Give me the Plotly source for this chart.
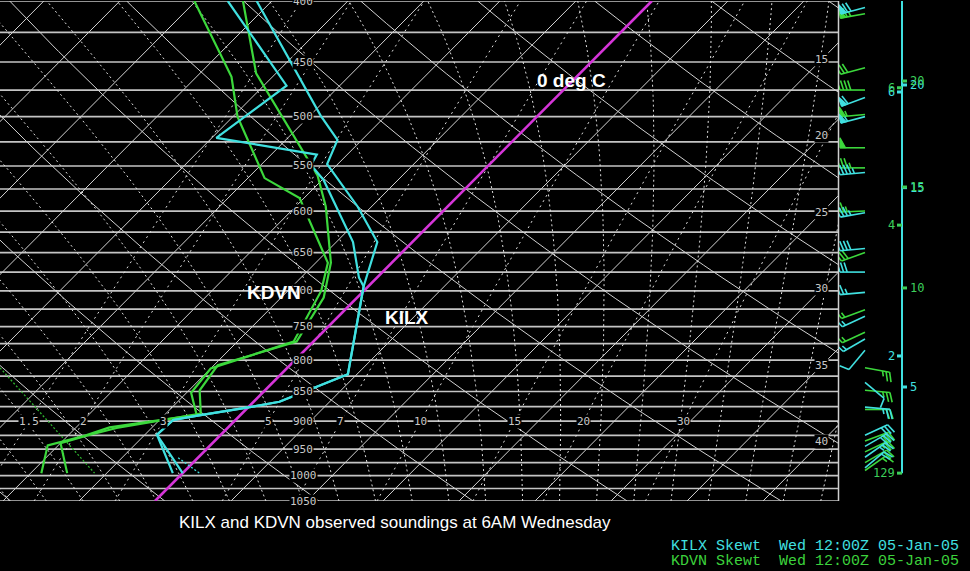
import numpy as np
import plotly.graph_objects as go

# ---------------- sounding data ----------------
ILX_T_P  = [995, 924, 898, 890, 876, 867, 822, 694, 637, 595, 548, 523, 499, 448, 400]
ILX_T    = [0.0, -4.2, -4.1, -2.7, 0.1, 1.7, 4.4, -0.3, -2.3, -5.9, -10.7, -11.6, -14.3, -20.0, -26.0]
ILX_TD_P = [995, 924, 898, 890, 876, 867, 822, 694, 682, 637, 565, 549, 538, 521, 471, 400]
ILX_TD   = [-0.65, -4.2, -4.1, -2.7, 0.1, 1.7, 4.4, -0.3, -1.2, -3.9, -9.9, -11.7, -12.0, -19.7, -18.5, -27.9]

DVN_T_P  = [995, 939, 924, 912, 887, 848, 808, 772, 709, 663, 595, 560, 460, 400]
DVN_T    = [-7.6, -10.0, -8.6, -7.3, -2.7, -4.3, -4.75, -1.1, -2.2, -4.0, -8.0, -10.6, -21.3, -26.9]
DVN_TD_P = [995, 943, 926, 911, 889, 852, 813, 772, 700, 663, 585, 563, 500, 463, 400]
DVN_TD   = [-9.3, -10.7, -8.9, -7.8, -2.9, -4.7, -5.0, -1.3, -2.8, -4.2, -10.3, -13.9, -19.7, -22.7, -30.1]

# dotted parcel-like segments
DVN_DOT_P = [812, 995]
DVN_DOT_T = [-18.9, -5.8]
ILX_DOT_P = [966, 995]
ILX_DOT_T = [-1.3, 1.1]

# winds (pressure hPa, direction deg, speed kt)
ILX_W_P   = [405, 482, 500, 557, 602, 645, 675, 702, 735, 768, 785, 835, 876, 925, 945, 965, 985]
ILX_W_DIR = [255, 250, 255, 265, 260, 265, 270, 265, 245, 240, 220, 130, 95, 65, 60, 55, 50]
ILX_W_SPD = [70, 60, 55, 45, 35, 40, 30, 25, 15, 15, 10, 10, 25, 30, 30, 25, 20]
DVN_W_P   = [410, 455, 475, 498, 531, 552, 600, 650, 726, 758, 812, 848, 880, 935, 955, 975, 990]
DVN_W_DIR = [260, 255, 270, 265, 270, 270, 268, 250, 250, 245, 100, 95, 90, 70, 65, 60, 55]
DVN_W_SPD = [65, 30, 40, 55, 50, 35, 25, 30, 15, 15, 25, 25, 20, 30, 25, 20, 15]

# height scale labels (text, pressure, side)
ILX_HT_TXT = ["20", "15", "5", "6", "2"]
ILX_HT_P   = [470.4, 573.5, 842.6, 476.8, 793.6]
ILX_HT_SIDE = ["r", "r", "r", "l", "l"]
DVN_HT_TXT = ["20", "15", "10", "6", "4", "129"]
DVN_HT_P   = [466.8, 572.8, 696.0, 472.9, 616.5, 995.0]
DVN_HT_SIDE = ["r", "r", "r", "l", "l", "l"]

# diagram background definitions
ISOBARS      = list(range(400, 1051, 25))
ISOBAR_LABELS = list(range(400, 1051, 50))
ISOTHERMS    = list(range(-100, 50, 5))
ISOTHERM_LABELS = [15, 20, 25, 30, 35, 40]
DRY_THETA_K  = list(range(240, 400, 10))
MOIST_T1000  = list(np.arange(-20, 45, 2.5))
MIX_RATIOS   = [1.5, 2, 3, 5, 7, 10, 15, 20, 30]
MIX_LABELS   = ["1.5", "2", "3", "5", "7", "10", "15", "20", "30"]

# ---------------- geometry ----------------
P_BOT, P_TOP = 1050.0, 400.0
SKEW = 33.87            # degC per unit ln p
XMIN, XMAX = -10.197, 44.934


def sx(T, p):
    return np.asarray(T, float) + SKEW * np.log(P_BOT / np.asarray(p, float))


def ypix_to_p(py):
    return 400.0 * np.exp((np.asarray(py, float) - 1.0) / 518.0)


def es(Tc):
    return 6.112 * np.exp(17.67 * Tc / (Tc + 243.5))


def td_from_w(w, p):
    e = w * p / (622.0 + w)
    l = np.log(e / 6.112)
    return 243.5 * l / (17.67 - l)


P_GRID = np.exp(np.linspace(np.log(1050), np.log(400), 90))


def moist_profile(T0c):
    def f(T, p):
        Tc = T - 273.15
        e = es(Tc)
        rs = 0.622 * e / (p - e)
        num = 287.04 * T + 2.501e6 * rs
        den = 1004.0 + (2.501e6 ** 2 * rs * 0.622) / (287.04 * T * T)
        return num / den / p
    out = {}
    for direction, pend in ((-1, 400.0), (1, 1050.0)):
        T = T0c + 273.15
        p = 1000.0
        h = 2.0 * direction
        ps, ts = [p], [T]
        while (p > pend + 1e-6) if direction < 0 else (p < pend - 1e-6):
            k1 = f(T, p)
            k2 = f(T + h * k1 / 2, p + h / 2)
            k3 = f(T + h * k2 / 2, p + h / 2)
            k4 = f(T + h * k3, p + h)
            T += h * (k1 + 2 * k2 + 2 * k3 + k4) / 6
            p += h
            ps.append(p); ts.append(T)
        out[direction] = (ps, ts)
    ps = out[1][0][::-1] + out[-1][0][1:]
    ts = out[1][1][::-1] + out[-1][1][1:]
    return np.array(ps), np.array(ts) - 273.15


def join(segs):
    xs, ys = [], []
    for x, y in segs:
        xs += list(x) + [None]
        ys += list(y) + [None]
    return xs, ys


fig = go.Figure()

GRID = "#d2d2d2"
ISOB = "#c4c4c4"
CYAN = "#40e0e0"
GREEN = "#3cd83c"
MAG = "#d535d8"

# isobars
segs = [([XMIN, XMAX], [p, p]) for p in ISOBARS]
x, y = join(segs)
fig.add_trace(go.Scatter(x=x, y=y, mode="lines", line=dict(color=ISOB, width=1.7), hoverinfo="skip"))

# isotherms
segs = [(sx([T, T], [1050, 400]), [1050, 400]) for T in ISOTHERMS if T != 0]
x, y = join(segs)
fig.add_trace(go.Scatter(x=x, y=y, mode="lines", line=dict(color=GRID, width=1), hoverinfo="skip"))

# dry adiabats
segs = []
for th in DRY_THETA_K:
    T = th * (P_GRID / 1000.0) ** 0.2857 - 273.15
    segs.append((sx(T, P_GRID), P_GRID))
x, y = join(segs)
fig.add_trace(go.Scatter(x=x, y=y, mode="lines", line=dict(color=GRID, width=1), hoverinfo="skip"))

# moist adiabats
segs = []
for t0 in MOIST_T1000:
    ps, ts = moist_profile(float(t0))
    idx = np.arange(0, len(ps), 5)
    segs.append((sx(ts[idx], ps[idx]), ps[idx]))
x, y = join(segs)
fig.add_trace(go.Scatter(x=x, y=y, mode="lines", line=dict(color="#e0e0e0", width=1, dash="2px,3px"), hoverinfo="skip"))

# mixing ratio lines
segs = []
for w in MIX_RATIOS:
    T = td_from_w(w, P_GRID)
    segs.append((sx(T, P_GRID), P_GRID))
x, y = join(segs)
fig.add_trace(go.Scatter(x=x, y=y, mode="lines", line=dict(color="#e0e0e0", width=1, dash="2px,4px"), hoverinfo="skip"))

# 0 deg C isotherm
fig.add_trace(go.Scatter(x=sx([0, 0], [1050, 400]), y=[1050, 400], mode="lines",
                         line=dict(color=MAG, width=2.6), hoverinfo="skip"))

# dotted parcel traces
fig.add_trace(go.Scatter(x=sx(DVN_DOT_T, DVN_DOT_P), y=DVN_DOT_P, mode="lines",
                         line=dict(color="#2fb02f", width=1.3, dash="2px,2px"), hoverinfo="skip"))
fig.add_trace(go.Scatter(x=sx(ILX_DOT_T, ILX_DOT_P), y=ILX_DOT_P, mode="lines",
                         line=dict(color=CYAN, width=1.3, dash="2px,2px"), hoverinfo="skip"))

# soundings
for P, T, col in ((DVN_TD_P, DVN_TD, GREEN), (DVN_T_P, DVN_T, GREEN),
                  (ILX_TD_P, ILX_TD, CYAN), (ILX_T_P, ILX_T, CYAN)):
    fig.add_trace(go.Scatter(x=sx(T, P), y=P, mode="lines", line=dict(color=col, width=2.2),
                             hoverinfo="skip"))

# ---------------- wind barbs (pixel space on x2) ----------------
STATION_X = 865.0
STAFF = 25.0
BARB = 10.0
SPACE = 3.6


def barb_geom(py, d, s):
    th = np.radians(d)
    u = np.array([np.sin(th), np.cos(th)])        # math coords, y up
    perp = np.array([np.cos(th), -np.sin(th)])    # clockwise side
    base = np.array([STATION_X, -py])
    lines = [[base, base + STAFF * u]]
    flags = []
    s5 = int(round(s / 5.0)) * 5
    nf, rem = divmod(s5, 50)
    nb, rem = divmod(rem, 10)
    nh = rem // 5
    pos = STAFF
    ang = np.radians(18)
    bdir = perp * np.cos(ang) + u * np.sin(ang)
    for _ in range(nf):
        a = base + pos * u
        b = base + (pos - 5.5) * u
        c = a + BARB * perp
        flags.append([a, c, b, a])
        pos -= 7.0
    for _ in range(nb):
        a = base + pos * u
        lines.append([a, a + BARB * bdir])
        pos -= SPACE
    for _ in range(nh):
        if pos == STAFF:
            pos -= SPACE
        a = base + pos * u
        lines.append([a, a + 0.55 * BARB * bdir])
    return lines, flags


def add_barbs(P, D, S, col):
    lx, ly, fx, fy = [], [], [], []
    for p, d, s in zip(P, D, S):
        py = 1 + 518 * np.log(p / 400.0)
        lines, flags = barb_geom(py, d, s)
        for seg in lines:
            for pt in seg:
                lx.append(pt[0]); ly.append(ypix_to_p(-pt[1]))
            lx.append(None); ly.append(None)
        for seg in flags:
            for pt in seg:
                fx.append(pt[0]); fy.append(ypix_to_p(-pt[1]))
            fx.append(None); fy.append(None)
    fig.add_trace(go.Scatter(x=lx, y=ly, xaxis="x2", yaxis="y", mode="lines",
                             line=dict(color=col, width=1.6), hoverinfo="skip"))
    if fx:
        fig.add_trace(go.Scatter(x=fx, y=fy, xaxis="x2", yaxis="y", mode="lines", fill="toself",
                                 fillcolor=col, line=dict(color=col, width=1.2), hoverinfo="skip"))


add_barbs(DVN_W_P, DVN_W_DIR, DVN_W_SPD, GREEN)
add_barbs(ILX_W_P, ILX_W_DIR, ILX_W_SPD, CYAN)

# height scale
HX = 902.0
fig.add_trace(go.Scatter(x=[HX, HX], y=[400, 995], xaxis="x2", yaxis="y", mode="lines",
                         line=dict(color=CYAN, width=2), hoverinfo="skip"))
annotations = []
for txts, ps, sides, col in ((ILX_HT_TXT, ILX_HT_P, ILX_HT_SIDE, CYAN),
                             (DVN_HT_TXT, DVN_HT_P, DVN_HT_SIDE, "#3ccf5a")):
    tx, ty = [], []
    for t, p, sd in zip(txts, ps, sides):
        if sd == "r":
            tx += [HX, HX + 5, None]
            annotations.append(dict(x=HX + 6, y=np.log10(p), xref="x2", yref="y", text=t,
                                    showarrow=False, xanchor="left", yanchor="middle",
                                    font=dict(family="DejaVu Sans Mono", size=12, color=col)))
        else:
            tx += [HX - 5, HX, None]
            annotations.append(dict(x=HX - 5, y=np.log10(p), xref="x2", yref="y", text=t,
                                    showarrow=False, xanchor="right", yanchor="middle",
                                    font=dict(family="DejaVu Sans Mono", size=12, color=col)))
        ty += [p, p, None]
    fig.add_trace(go.Scatter(x=tx, y=ty, xaxis="x2", yaxis="y", mode="lines",
                             line=dict(color=col, width=3), hoverinfo="skip"))

# ---------------- labels ----------------
LBL_FONT = dict(family="DejaVu Sans Mono", size=11, color="#c8c8c8")
for p in ISOBAR_LABELS:
    annotations.append(dict(x=9.74, y=np.log10(p), xref="x", yref="y", text=str(p), showarrow=False,
                            xanchor="center", yanchor="middle",
                            bgcolor="black", borderpad=0, font=LBL_FONT))
for w, t in zip(MIX_RATIOS, MIX_LABELS):
    annotations.append(dict(x=float(sx(td_from_w(w, 900.0), 900.0)), y=np.log10(900), xref="x", yref="y",
                            text=t, showarrow=False, xanchor="center", yanchor="middle",
                            bgcolor="black", borderpad=0, font=LBL_FONT))
for T in ISOTHERM_LABELS:
    xl = 43.88
    p = P_BOT * np.exp(-(xl - T) / SKEW)
    annotations.append(dict(x=xl, y=np.log10(p), xref="x", yref="y", text=str(T), showarrow=False,
                            xanchor="center", yanchor="middle",
                            bgcolor="black", borderpad=0, font=LBL_FONT))

BOLD = dict(family="Liberation Sans", size=19, color="white")
for txt, xx, pp in (("0 deg C", 27.37, 465.9), ("KDVN", 7.8, 701.9), ("KILX", 16.55, 737.0)):
    annotations.append(dict(x=xx, y=np.log10(pp), xref="x", yref="y", text="<b>%s</b>" % txt,
                            showarrow=False, xanchor="center", yanchor="middle", font=BOLD))

annotations.append(dict(x=395 / 970, y=(501 - 522) / 500, xref="paper", yref="paper",
                        xanchor="center", yanchor="middle",
                        text="KILX and KDVN observed soundings at 6AM Wednesday", showarrow=False,
                        font=dict(family="Liberation Sans", size=17, color="white")))
annotations.append(dict(x=961 / 970, y=(501 - 546) / 500, xref="paper", yref="paper",
                        xanchor="right", yanchor="middle",
                        text="KILX Skewt  Wed 12:00Z 05-Jan-05".replace(" ", "&nbsp;"), showarrow=False,
                        font=dict(family="Liberation Mono", size=15, color=CYAN)))
annotations.append(dict(x=961 / 970, y=(501 - 561) / 500, xref="paper", yref="paper",
                        xanchor="right", yanchor="middle",
                        text="KDVN Skewt  Wed 12:00Z 05-Jan-05".replace(" ", "&nbsp;"), showarrow=False,
                        font=dict(family="Liberation Mono", size=15, color="#3cd23c")))

fig.update_layout(
    width=970, height=571,
    margin=dict(l=0, r=0, t=1, b=70),
    paper_bgcolor="black", plot_bgcolor="black",
    showlegend=False,
    xaxis=dict(domain=[0, 838 / 970], range=[XMIN, XMAX], visible=False),
    xaxis2=dict(domain=[838 / 970, 1], range=[838, 970], visible=False, anchor="y"),
    yaxis=dict(type="log", range=[np.log10(1050), np.log10(400)], visible=False),
    annotations=annotations,
    shapes=[dict(type="line", xref="paper", yref="paper", x0=838.5 / 970, x1=838.5 / 970, y0=0, y1=1,
                 line=dict(color="#cfcfcf", width=1.5))],
)

fig.write_html("out.html",
               config={"displayModeBar": False, "staticPlot": True},
               post_script="document.body.style.margin='0';document.body.style.background='black';")
